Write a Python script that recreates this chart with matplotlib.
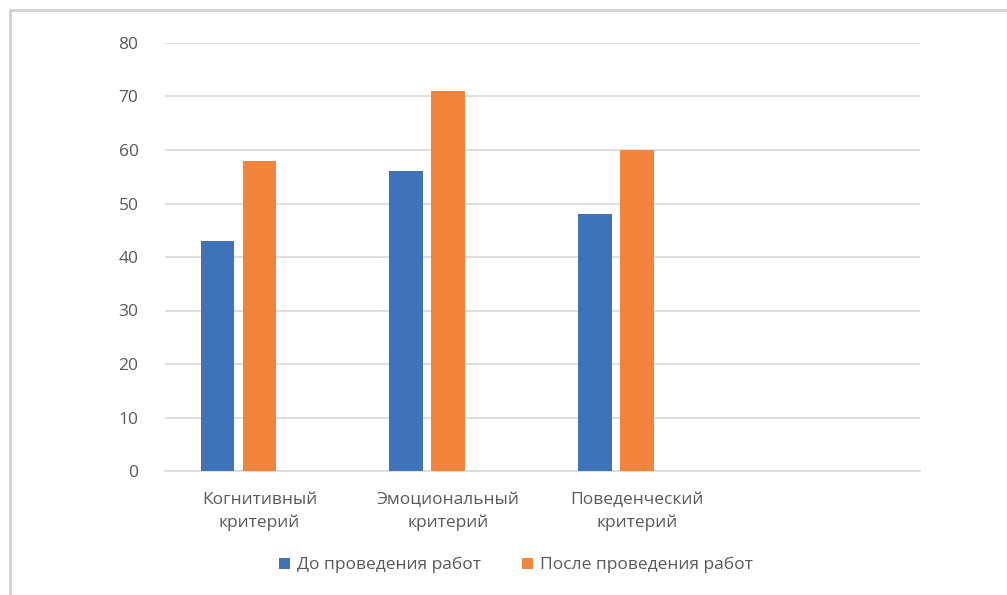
import matplotlib
matplotlib.use("Agg")
import matplotlib.pyplot as plt
from matplotlib.patches import Rectangle, Patch
import numpy as np

categories = ["Когнитивный\nкритерий", "Эмоциональный\nкритерий", "Поведенческий\nкритерий", ""]
before = [43, 56, 48, None]
after = [58, 71, 60, None]
series_names = ["До проведения работ", "После проведения работ"]
yticks = [0, 10, 20, 30, 40, 50, 60, 70, 80]

BLUE = "#4072BA"
ORANGE = "#F2843C"
TXT = "#595959"
GRID = "#D9D9D9"

plt.rcParams['font.family'] = ['Open Sans', 'DejaVu Sans']

W, H = 1007, 595
fig = plt.figure(figsize=(W / 100, H / 100), dpi=100)
ax = fig.add_axes([165 / W, 1 - 471 / H, (920 - 165) / W, (471 - 43) / H])

x = np.arange(len(categories))
bw = 33.5 / 189
off = 42 / 189
bv = [v if v is not None else 0 for v in before]
av = [v if v is not None else 0 for v in after]
ax.bar(x - off, bv, width=bw, color=BLUE, zorder=3)
ax.bar(x, av, width=bw, color=ORANGE, zorder=3)

ax.set_xlim(-0.5, len(categories) - 0.5)
ax.set_ylim(0, 80)
ax.set_yticks(yticks)
ax.set_yticklabels([str(t) for t in yticks])
ax.yaxis.grid(True, color=GRID, linewidth=1.2, zorder=0)
for s in ["left", "right", "top"]:
    ax.spines[s].set_visible(False)
ax.spines["bottom"].set_color(GRID)
ax.spines["bottom"].set_linewidth(1.2)
ax.tick_params(axis="both", length=0, colors=TXT, labelsize=12.5)
ax.tick_params(axis="y", pad=19)
ax.tick_params(axis="x", pad=15)
ax.set_xticks(x)
ax.set_xticklabels(categories, linespacing=1.5)

handles = [Patch(facecolor=BLUE), Patch(facecolor=ORANGE)]
fig.legend(handles, series_names, loc="center", bbox_to_anchor=(516 / W, 1 - 565 / H),
           ncol=2, frameon=False, fontsize=12.5, labelcolor=TXT,
           handlelength=0.6, handleheight=0.6, handletextpad=0.4, columnspacing=2.4)

fig.patches.append(Rectangle((10 / W, -0.1), 1.2, 1 - 10 / H + 0.1, transform=fig.transFigure,
                             fill=False, edgecolor="#D0D0D0", linewidth=2))

fig.savefig("out.png", dpi=100)
